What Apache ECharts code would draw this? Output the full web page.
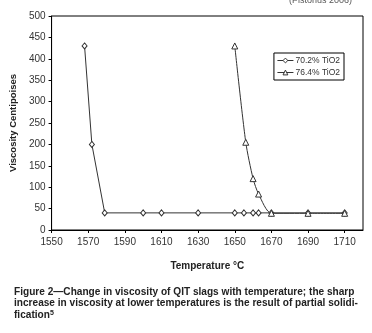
<!DOCTYPE html>
<html><head><meta charset="utf-8">
<script src="https://cdn.jsdelivr.net/npm/echarts@6/dist/echarts.min.js"></script>
<style>html,body{margin:0;padding:0;background:#fff}#c{width:372px;height:333px}</style>
</head><body><div id="c"></div>
<script>
var seriesNames = ['70.2% TiO2', '76.4% TiO2'];
var temp702 = [1568, 1572, 1579, 1600, 1610, 1630, 1650, 1655, 1660, 1663, 1670, 1690, 1710];
var visc702 = [430, 200, 40, 40, 40, 40, 40, 40, 40, 40, 40, 40, 40];
var temp764 = [1650, 1656, 1660, 1663, 1670, 1690, 1710];
var visc764 = [430, 205, 120, 84, 39, 39, 39];
var xTitle = 'Temperature °C';
var yTitle = 'Viscosity Centipoises';
var sourceNote = '(Pistorius 2006)';
var captionLines = [
  'Figure 2\u2014Change in viscosity of QIT slags with temperature; the sharp',
  'increase in viscosity at lower temperatures is the result of partial solidi-',
  'fication'
];

function pairs(xs, ys) { return xs.map(function (x, i) { return [x, ys[i]]; }); }

var font = 'Liberation Sans, Arial, sans-serif';
var chart = echarts.init(document.getElementById('c'), null, { renderer: 'canvas' });
chart.setOption({
  animation: false,
  backgroundColor: '#fff',
  textStyle: { fontFamily: font },
  grid: { left: 50, right: 9, top: 16, bottom: 103, show: true, borderColor: '#000', borderWidth: 1 },
  xAxis: {
    type: 'value', min: 1550, max: 1720, interval: 20,
    axisLine: { onZero: false, lineStyle: { color: '#000', width: 1 } },
    axisTick: { show: true, length: 3, lineStyle: { color: '#000' } },
    axisLabel: { color: '#333', fontSize: 10, margin: 7, showMaxLabel: false, fontFamily: font,
      formatter: function (v) { return String(v); } },
    splitLine: { show: false },
    name: xTitle, nameLocation: 'middle', nameGap: 31,
    nameTextStyle: { fontWeight: 'bold', fontSize: 10, color: '#222', fontFamily: font }
  },
  yAxis: {
    type: 'value', min: 0, max: 500, interval: 50,
    axisLine: { show: true, lineStyle: { color: '#000', width: 1 } },
    axisTick: { show: true, length: 3, lineStyle: { color: '#000' } },
    axisLabel: { color: '#333', fontSize: 10, margin: 6, fontFamily: font },
    splitLine: { show: false },
    name: yTitle, nameLocation: 'middle', nameGap: 31,
    nameTextStyle: { fontWeight: 'bold', fontSize: 9.5, color: '#222', fontFamily: font }
  },
  legend: {
    right: 28, top: 53, orient: 'vertical',
    borderColor: '#000', borderWidth: 1, padding: [3, 4, 3, 3],
    itemGap: 3, itemWidth: 16, itemHeight: 6,
    itemStyle: { color: '#fff', borderColor: '#333', borderWidth: 1 },
    lineStyle: { color: '#333', width: 1 },
    textStyle: { fontSize: 8.5, color: '#333', fontFamily: font, padding: [0, 0, 0, -3] },
    data: seriesNames
  },
  series: [
    {
      name: seriesNames[0], type: 'line', data: pairs(temp702, visc702),
      symbol: 'diamond', symbolSize: [5, 6], showAllSymbol: true,
      lineStyle: { color: '#333', width: 1 },
      itemStyle: { color: '#fff', borderColor: '#333', borderWidth: 1 }
    },
    {
      name: seriesNames[1], type: 'line', data: pairs(temp764, visc764),
      smooth: 0.25,
      symbol: 'triangle', symbolSize: 6, showAllSymbol: true,
      lineStyle: { color: '#333', width: 1 },
      itemStyle: { color: '#fff', borderColor: '#333', borderWidth: 1 }
    }
  ],
  graphic: [
    { type: 'text', left: 289, top: -4, style: { text: sourceNote, fontSize: 9, fill: '#555', font: '9px ' + font } },
    {
      type: 'text', left: 14, top: 286,
      style: {
        text: captionLines[0] + '\n' + captionLines[1] + '\n' + captionLines[2] + '{s|5}',
        font: 'bold 10.1px ' + font, fill: '#222', lineHeight: 11.8,
        rich: { s: { fontSize: 7, fontWeight: 'bold', verticalAlign: 'top', padding: [0, 0, 4, 0], fill: '#222', fontFamily: font } }
      }
    }
  ]
});
</script></body></html>
